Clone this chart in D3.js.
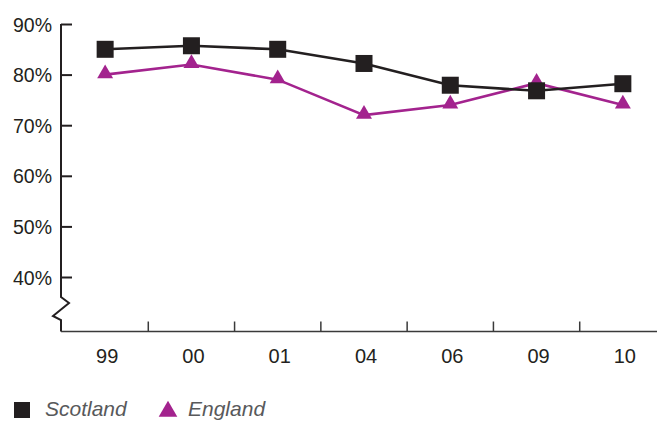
<!DOCTYPE html>
<html>
<head>
<meta charset="utf-8">
<script src="https://cdn.jsdelivr.net/npm/d3@7"></script>
<style>
  html, body { margin: 0; padding: 0; background: #fff; }
  svg { display: block; font-family: "Liberation Sans", Arial, Helvetica, sans-serif; }
</style>
</head>
<body>
<svg id="chart" width="657" height="421"></svg>
<script>
// Survey years (two-digit labels) and the share for each nation, in percent
const years = ["99", "00", "01", "04", "06", "09", "10"];
const scotland = [85, 85.7, 85, 82.2, 77.9, 76.8, 78.2];
const england = [80, 82, 79, 72, 74, 78.3, 74];
const yTicks = [40, 50, 60, 70, 80, 90];
const seriesNames = ["Scotland", "England"];

const ink = "#231f20";
const purple = "#a3238e";

const svg = d3.select("#chart");

const x = d3.scaleBand().domain(years).range([62, 666]);
const y = d3.scaleLinear().domain([40, 90]).range([277, 24]);
const xAxisY = 331.5;
const axisX = 61;

// Y axis: ticks point into the plot, labels sit on the left
const yAxis = svg.append("g")
  .attr("transform", `translate(${axisX},0)`)
  .call(d3.axisLeft(y).tickValues(yTicks).tickSize(-11).tickPadding(9)
    .tickFormat(d => d + "%"));
yAxis.select(".domain").remove();
yAxis.selectAll(".tick line").attr("stroke", ink).attr("stroke-width", 2);
yAxis.selectAll(".tick text")
  .attr("fill", ink).attr("font-size", 19.5).attr("dy", "0.36em")
  .attr("font-family", "Liberation Sans, Arial, sans-serif");

// Vertical axis line with a break before it meets the baseline
const breakPath = d3.path();
breakPath.moveTo(axisX, y(90));
breakPath.lineTo(axisX, 297);
breakPath.lineTo(axisX + 8, 303);
breakPath.lineTo(axisX - 8, 316);
breakPath.lineTo(axisX, 320);
breakPath.lineTo(axisX, xAxisY);
svg.append("path").attr("d", breakPath.toString())
  .attr("fill", "none").attr("stroke", ink).attr("stroke-width", 2)
  .attr("stroke-linejoin", "miter");

// X axis: labels centred in each band, ticks on the band edges
const xAxis = svg.append("g")
  .attr("transform", `translate(2,${xAxisY})`)
  .call(d3.axisBottom(x).tickSize(0).tickPadding(17));
xAxis.select(".domain").remove();
xAxis.selectAll(".tick text")
  .attr("fill", ink).attr("font-size", 20).attr("dy", "0.71em")
  .attr("font-family", "Liberation Sans, Arial, sans-serif");

svg.append("line")
  .attr("x1", axisX).attr("x2", 657)
  .attr("y1", xAxisY).attr("y2", xAxisY)
  .attr("stroke", "#3a3a3a").attr("stroke-width", 1.5);

svg.append("g").selectAll("line")
  .data(years.slice(1))
  .join("line")
  .attr("x1", d => x(d)).attr("x2", d => x(d))
  .attr("y1", xAxisY - 10).attr("y2", xAxisY)
  .attr("stroke", "#3a3a3a").attr("stroke-width", 1.5);

const cx = (d, i) => x(years[i]) + x.bandwidth() / 2;

const line = d3.line()
  .x((d, i) => cx(d, i))
  .y(d => y(d));

// England: purple line with triangles
svg.append("path").datum(england)
  .attr("d", line).attr("fill", "none")
  .attr("stroke", purple).attr("stroke-width", 2.6);

// Scotland: dark line with squares
svg.append("path").datum(scotland)
  .attr("d", line).attr("fill", "none")
  .attr("stroke", ink).attr("stroke-width", 2.6);

const tri = d3.symbol().type(d3.symbolTriangle).size(110);
svg.append("g").selectAll("path")
  .data(england)
  .join("path")
  .attr("d", tri)
  .attr("transform", (d, i) => `translate(${cx(d, i)},${y(d) - 1})`)
  .attr("fill", purple);

const sq = 17;
svg.append("g").selectAll("rect")
  .data(scotland)
  .join("rect")
  .attr("x", (d, i) => cx(d, i) - sq / 2)
  .attr("y", d => y(d) - sq / 2)
  .attr("width", sq).attr("height", sq)
  .attr("fill", ink);

// Legend
const legend = svg.append("g");
legend.append("rect")
  .attr("x", 14).attr("y", 402).attr("width", 16).attr("height", 16)
  .attr("fill", ink);
legend.append("text")
  .attr("x", 45).attr("y", 416)
  .attr("font-size", 21).attr("font-style", "italic").attr("fill", "#58595b")
  .text(seriesNames[0]);
legend.append("path")
  .attr("d", d3.symbol().type(d3.symbolTriangle).size(150))
  .attr("transform", "translate(168,411.5)")
  .attr("fill", purple);
legend.append("text")
  .attr("x", 188).attr("y", 416)
  .attr("font-size", 21).attr("font-style", "italic").attr("fill", "#58595b")
  .text(seriesNames[1]);
</script>
</body>
</html>
